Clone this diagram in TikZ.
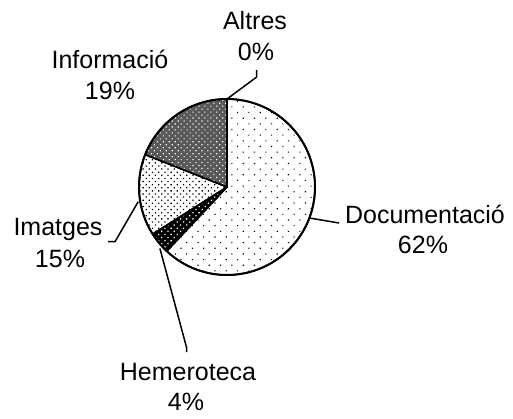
\documentclass[tikz,border=0pt]{standalone}
\usepackage{fontspec}
\setmainfont{Liberation Sans}
\usetikzlibrary{patterns.meta,calc}
\begin{document}
\begin{tikzpicture}[x=1pt,y=1pt,
  lbl/.style={anchor=base, inner sep=0pt, font=\fontsize{25}{31}\selectfont},
  slice/.style={draw=black, line width=1.6pt, line join=round},
  leader/.style={draw=black, line width=1.5pt, line join=miter}]
\useasboundingbox (0,0) rectangle (513,418);
\def\R{88}
\coordinate (c) at (227,231);
% slices
\draw[slice, pattern={Dots[angle=45,distance=8pt,radius=0.8pt]}]
  (c) -- ++(90:\R) arc[start angle=90,end angle=-133.2,radius=\R] -- cycle;
\draw[slice, preaction={fill=black}, pattern={Dots[angle=45,distance=4.4pt,radius=0.9pt]}, pattern color=white]
  (c) -- ++(-133.2:\R) arc[start angle=-133.2,end angle=-147.6,radius=\R] -- cycle;
\draw[slice, pattern={Dots[angle=45,distance=4.4pt,radius=0.9pt]}]
  (c) -- ++(-147.6:\R) arc[start angle=-147.6,end angle=-201.6,radius=\R] -- cycle;
\draw[slice, preaction={fill=black!65}, pattern={Dots[angle=45,distance=4.2pt,radius=0.8pt]}, pattern color=white]
  (c) -- ++(-201.6:\R) arc[start angle=-201.6,end angle=-270,radius=\R] -- cycle;
\draw[line width=2pt] (c) circle[radius=\R];
% leader anchor points
\coordinate (pA) at ($(c)+(90:\R)$);
\coordinate (bA) at (256.7,341);
\coordinate (eA) at (256.7,348);
\coordinate (pD) at ($(c)+(-20.5:89)$);
\coordinate (eD) at (339,195);
\coordinate (pI) at ($(c)+(-170.6:90)$);
\coordinate (bI) at (115,176.3);
\coordinate (eI) at (108,176.3);
\coordinate (pH) at ($(c)+(-137.5:91)$);
\coordinate (bH) at (186.7,70);
\coordinate (eH) at (186.7,66);
% labels
\node[lbl] (altres) at (255,388) {Altres};
\node[lbl] (altresp) at (256,357.5) {0\%};
\node[lbl] (info) at (110,349) {Informació};
\node[lbl] (infop) at (110,318) {19\%};
\node[lbl] (doc) at (425,195) {Documentació};
\node[lbl] (docp) at (423,165) {62\%};
\node[lbl] (img) at (58,183) {Imatges};
\node[lbl] (imgp) at (60,151) {15\%};
\node[lbl] (hem) at (188,38) {Hemeroteca};
\node[lbl] (hemp) at (186,8) {4\%};
% leaders
\draw[leader] (pA) -- (bA) -- (eA);
\draw[leader] (pD) -- (eD);
\draw[leader] (pI) -- (bI) -- (eI);
\draw[leader] (pH) -- (bH) -- (eH);
\end{tikzpicture}
\end{document}
